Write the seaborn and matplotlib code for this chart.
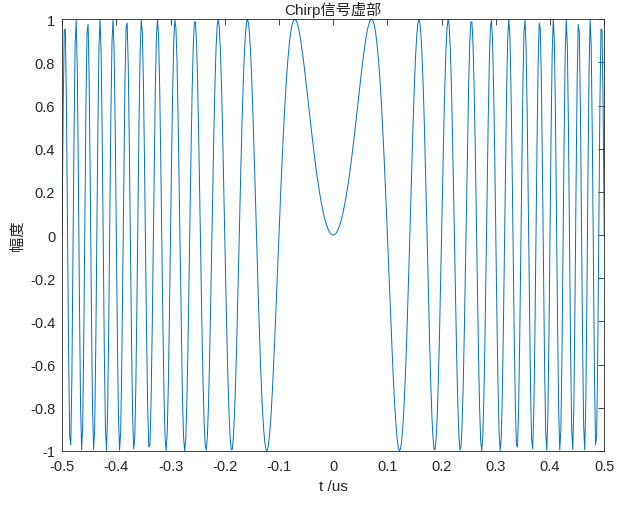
import numpy as np
import matplotlib
matplotlib.use("Agg")
import matplotlib.pyplot as plt
import seaborn as sns
import pandas as pd

# Chirp parameters
pulse_width_us = 1.0      # t from -0.5 to 0.5 us
bandwidth_mhz = 100.0     # chirp rate K = B/T = 100 MHz/us
fs_mhz = 500.0            # sampling rate
xticks = [-0.5, -0.4, -0.3, -0.2, -0.1, 0, 0.1, 0.2, 0.3, 0.4, 0.5]
xticklabels = ["-0.5", "-0.4", "-0.3", "-0.2", "-0.1", "0", "0.1", "0.2", "0.3", "0.4", "0.5"]
yticks = [-1, -0.8, -0.6, -0.4, -0.2, 0, 0.2, 0.4, 0.6, 0.8, 1]
yticklabels = ["-1", "-0.8", "-0.6", "-0.4", "-0.2", "0", "0.2", "0.4", "0.6", "0.8", "1"]

K = bandwidth_mhz / pulse_width_us
n = int(pulse_width_us * fs_mhz) + 1
t = np.linspace(-pulse_width_us / 2, pulse_width_us / 2, n)
y = np.sin(np.pi * K * t ** 2)
df = pd.DataFrame({"t": t, "y": y})

sns.set_style("white")
plt.rcParams['font.family'] = ['Liberation Sans', 'Noto Sans CJK SC', 'DejaVu Sans']
plt.rcParams['axes.unicode_minus'] = False
plt.rcParams['xtick.direction'] = 'in'
plt.rcParams['ytick.direction'] = 'in'

fig = plt.figure(figsize=(6.21, 5.06), dpi=100)
ax = fig.add_axes([0.1, 0.107, 0.873, 0.853])
sns.lineplot(data=df, x="t", y="y", ax=ax, color="#0072BD", linewidth=0.7)
ax.set_xlim(-0.5, 0.5)
ax.set_ylim(-1, 1)
ax.set_xticks(xticks, xticklabels)
ax.set_yticks(yticks, yticklabels)
ax.tick_params(labelsize=10.5, length=4, width=0.6, top=True, right=True, colors="#262626")
ax.tick_params(axis="x", pad=6)
ax.tick_params(axis="y", pad=5)
for s in ax.spines.values():
    s.set_linewidth(0.6)
    s.set_color("#262626")
ax.set_title("Chirp信号虚部", fontsize=11, pad=4)
ax.set_xlabel("t /us", fontsize=11)
ax.set_ylabel("幅度", fontsize=11)
fig.savefig("out.png", dpi=100)
